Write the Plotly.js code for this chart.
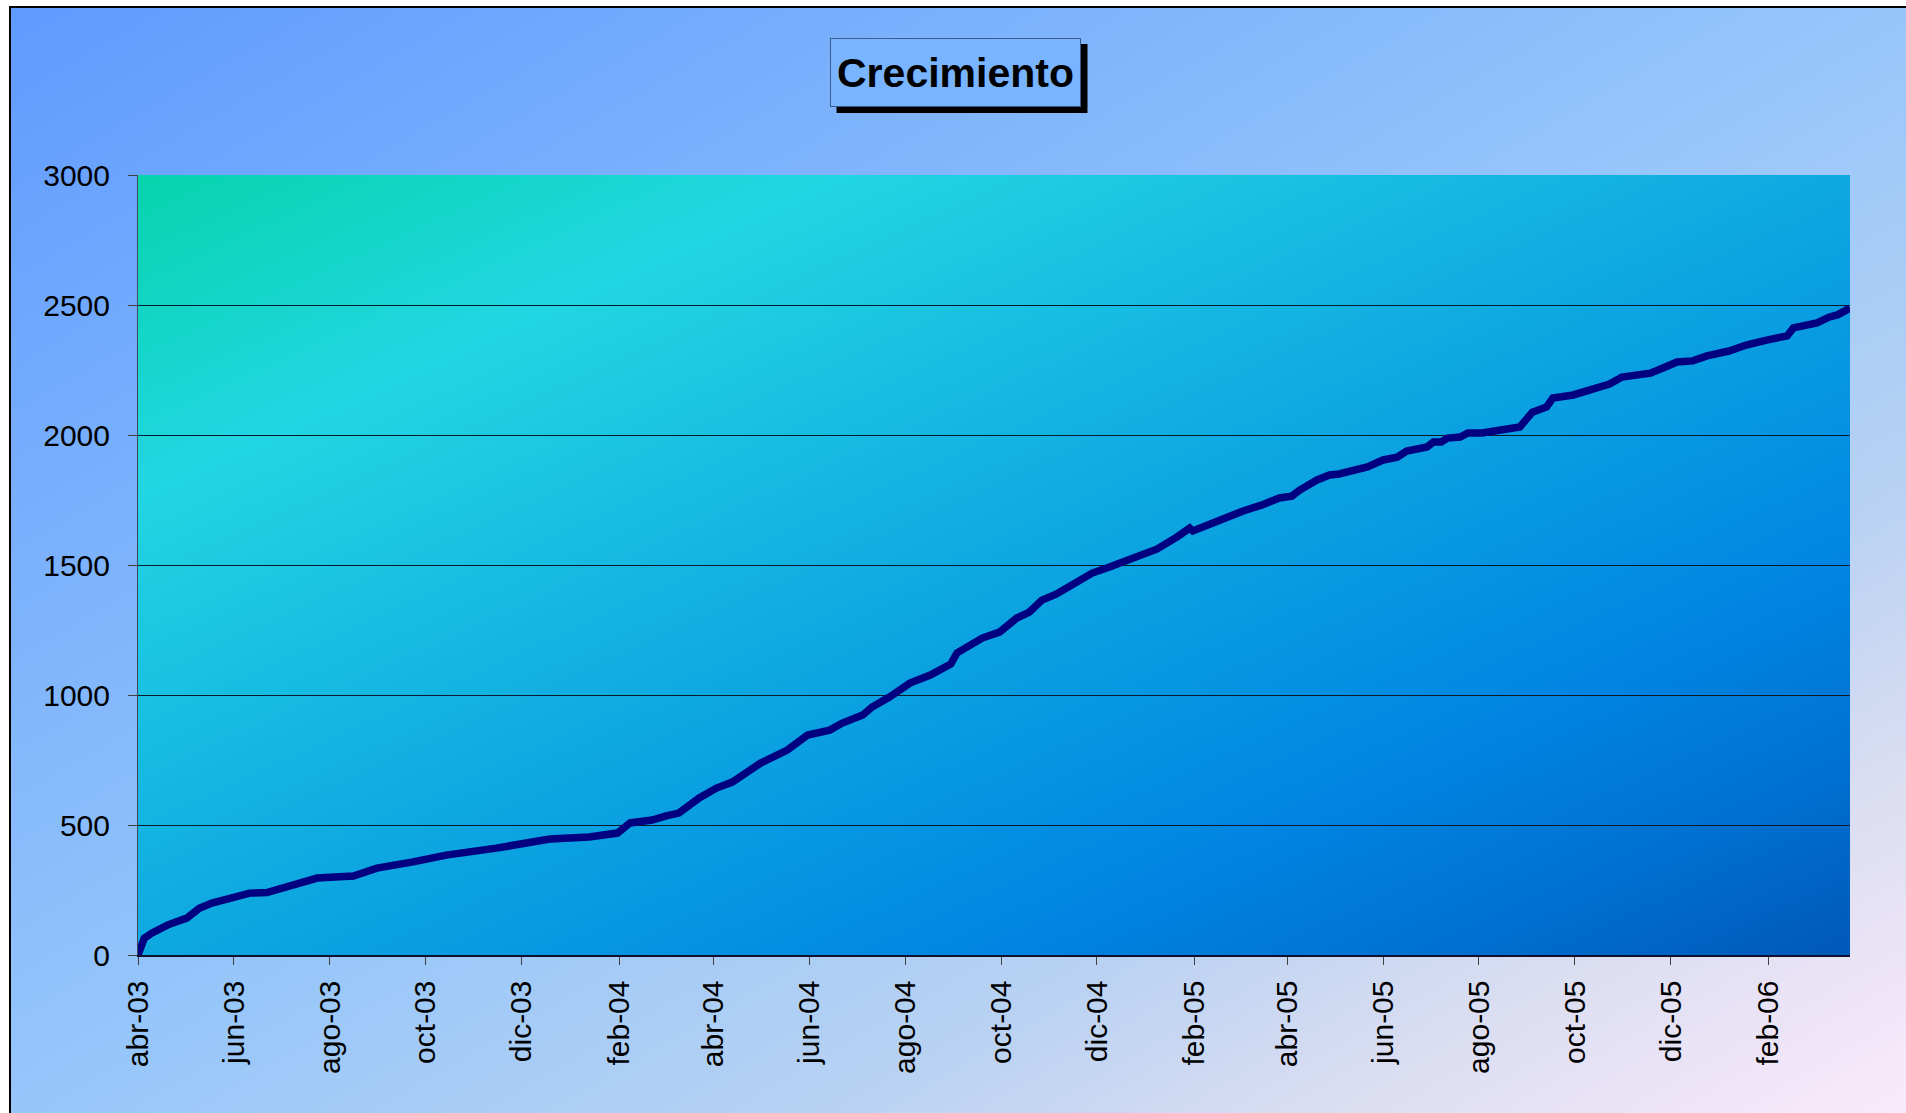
<!DOCTYPE html>
<html>
<head>
<meta charset="utf-8">
<script src="https://cdn.plot.ly/plotly-3.0.1.min.js"></script>
<style>
  html, body { margin: 0; padding: 0; background: #ffffff; overflow: hidden; width: 1906px; height: 1113px; }
  #chart {
    position: absolute; left: 9px; top: 6px;
    width: 1895px; height: 1105px;
    border-left: 2px solid #000; border-top: 2px solid #000;
    background: linear-gradient(to bottom right,
      rgb(95,155,255) 0%, rgb(150,198,250) 50%, rgb(185,210,242) 72%,
      rgb(220,222,242) 85%, rgb(250,234,250) 100%);
  }
</style>
</head>
<body>
<div id="chart"></div>
<script>
// ---- data ----
const fechas = [
  '2003-04-01','2003-04-02','2003-04-05','2003-04-10','2003-04-20','2003-05-02','2003-05-10','2003-05-18','2003-05-29',
  '2003-06-11','2003-06-22','2003-07-09','2003-07-24','2003-08-16','2003-08-31','2003-09-23','2003-10-14','2003-11-15',
  '2003-12-06','2003-12-19','2004-01-13','2004-01-31','2004-02-08','2004-02-22','2004-03-02','2004-03-10','2004-03-23',
  '2004-04-03','2004-04-13','2004-04-22','2004-05-01','2004-05-18','2004-05-31','2004-06-14','2004-06-22','2004-07-05',
  '2004-07-11','2004-07-22','2004-07-29','2004-08-04','2004-08-17','2004-08-30','2004-09-03','2004-09-19','2004-09-30',
  '2004-10-11','2004-10-19','2004-10-27','2004-11-05','2004-11-18','2004-11-28','2004-12-09','2004-12-20','2005-01-02',
  '2005-01-08','2005-01-21','2005-01-29','2005-01-31','2005-02-09','2005-02-21','2005-03-04','2005-03-16','2005-03-27',
  '2005-04-04','2005-04-09','2005-04-20','2005-04-28','2005-05-04','2005-05-22','2005-06-01','2005-06-10','2005-06-16',
  '2005-06-29','2005-07-03','2005-07-08','2005-07-12','2005-07-20','2005-07-25','2005-08-03','2005-08-27','2005-09-04',
  '2005-09-13','2005-09-17','2005-09-30','2005-10-15','2005-10-23','2005-10-31','2005-11-18','2005-11-26','2005-12-05',
  '2005-12-15','2005-12-24','2006-01-07','2006-01-18','2006-01-31','2006-02-13','2006-02-17','2006-03-04','2006-03-12',
  '2006-03-17','2006-03-25'
];
const usuarios = [
  0, 13, 65, 85, 116, 142, 180, 200, 219,
  238, 240, 269, 296, 304, 334, 358, 384, 411,
  430, 446, 454, 469, 508, 519, 535, 546, 604,
  642, 665, 704, 738, 788, 846, 865, 892, 923,
  954, 992, 1019, 1046, 1077, 1119, 1162, 1219, 1242,
  1296, 1319, 1365, 1388, 1431, 1469, 1492, 1519, 1550,
  1561, 1608, 1642, 1631, 1654, 1684, 1708, 1731, 1758,
  1765, 1788, 1827, 1846, 1850, 1877, 1904, 1915, 1938,
  1954, 1973, 1973, 1988, 1992, 2008, 2008, 2031, 2088,
  2108, 2142, 2154, 2177, 2196, 2223, 2238, 2258, 2281,
  2285, 2304, 2323, 2346, 2365, 2381, 2412, 2431, 2454,
  2462, 2488
];
const tickFechas = ['2003-04-01','2003-06-01','2003-08-01','2003-10-01','2003-12-01','2004-02-01','2004-04-01',
  '2004-06-01','2004-08-01','2004-10-01','2004-12-01','2005-02-01','2005-04-01','2005-06-01','2005-08-01',
  '2005-10-01','2005-12-01','2006-02-01'];
const tickTextos = ['abr-03','jun-03','ago-03','oct-03','dic-03','feb-04','abr-04','jun-04','ago-04','oct-04',
  'dic-04','feb-05','abr-05','jun-05','ago-05','oct-05','dic-05','feb-06'];
const titulo = 'Crecimiento';

// ---- plot area gradient as an image ----
const svg = '<svg xmlns="http://www.w3.org/2000/svg" width="100" height="100" viewBox="0 0 100 100" preserveAspectRatio="none">' +
  '<defs><linearGradient id="g" x1="0" y1="0" x2="1" y2="1">' +
  '<stop offset="0" stop-color="rgb(6,212,172)"/>' +
  '<stop offset="0.2" stop-color="rgb(34,214,226)"/>' +
  '<stop offset="0.5" stop-color="rgb(14,168,225)"/>' +
  '<stop offset="0.75" stop-color="rgb(0,133,226)"/>' +
  '<stop offset="0.88" stop-color="rgb(0,112,208)"/>' +
  '<stop offset="1" stop-color="rgb(0,88,184)"/>' +
  '</linearGradient></defs><rect x="0" y="0" width="100" height="100" fill="url(#g)"/></svg>';
const imgSrc = 'data:image/svg+xml;base64,' + btoa(svg);

const FONT = 'Liberation Sans, Arial, sans-serif';
const TX = 0.4778, TY = 1.1314;

const trace = {
  type: 'scatter', mode: 'lines',
  x: fechas, y: usuarios,
  line: { color: '#000080', width: 7.5 },
  hoverinfo: 'x+y'
};

const layout = {
  width: 1895, height: 1105,
  margin: { l: 127, r: 56, t: 167, b: 158, pad: 0 },
  paper_bgcolor: 'rgba(0,0,0,0)',
  plot_bgcolor: 'rgba(0,0,0,0)',
  showlegend: false,
  font: { family: FONT, color: '#000' },
  images: [{
    source: imgSrc, xref: 'paper', yref: 'paper', x: 0, y: 1, sizex: 1, sizey: 1,
    xanchor: 'left', yanchor: 'top', sizing: 'stretch', layer: 'below'
  }],
  xaxis: {
    type: 'date',
    range: ['2003-04-01', '2006-03-25'],
    tickmode: 'array', tickvals: tickFechas, ticktext: tickTextos,
    tickangle: -90,
    tickfont: { family: FONT, size: 30, color: '#000' },
    ticks: 'outside', ticklen: 8, tickwidth: 1, tickcolor: '#404040',
    showgrid: false, zeroline: false,
    showline: true, linecolor: '#101030', linewidth: 1.5,
    ticklabelstandoff: 4,
    fixedrange: true
  },
  yaxis: {
    range: [0, 3000], dtick: 500, tick0: 0,
    tickfont: { family: FONT, size: 30, color: '#000' },
    ticks: 'outside', ticklen: 9, tickwidth: 1, tickcolor: '#404040',
    showgrid: true, gridcolor: '#0a1a2a', gridwidth: 1,
    zeroline: false,
    showline: true, linecolor: '#404858', linewidth: 1,
    ticklabelstandoff: 12,
    fixedrange: true
  },
  shapes: [{
    type: 'rect', xref: 'paper', yref: 'paper',
    xsizemode: 'pixel', ysizemode: 'pixel', xanchor: TX, yanchor: TY,
    x0: -119.5, x1: 131.5, y0: -40.5, y1: 28.5,
    fillcolor: '#000', line: { width: 0 }, layer: 'above'
  }],
  annotations: [
    {
      text: '<b>' + titulo + '</b>', xref: 'paper', yref: 'paper', x: TX, y: TY,
      xanchor: 'center', yanchor: 'middle', showarrow: false,
      width: 249, height: 67,
      font: { family: FONT, size: 41, color: '#000' },
      bgcolor: '#78b4ff', bordercolor: '#3c5a8c', borderwidth: 1, borderpad: 0
    }
  ]
};

Plotly.newPlot('chart', [trace], layout, { displayModeBar: false, staticPlot: true });
</script>
</body>
</html>
